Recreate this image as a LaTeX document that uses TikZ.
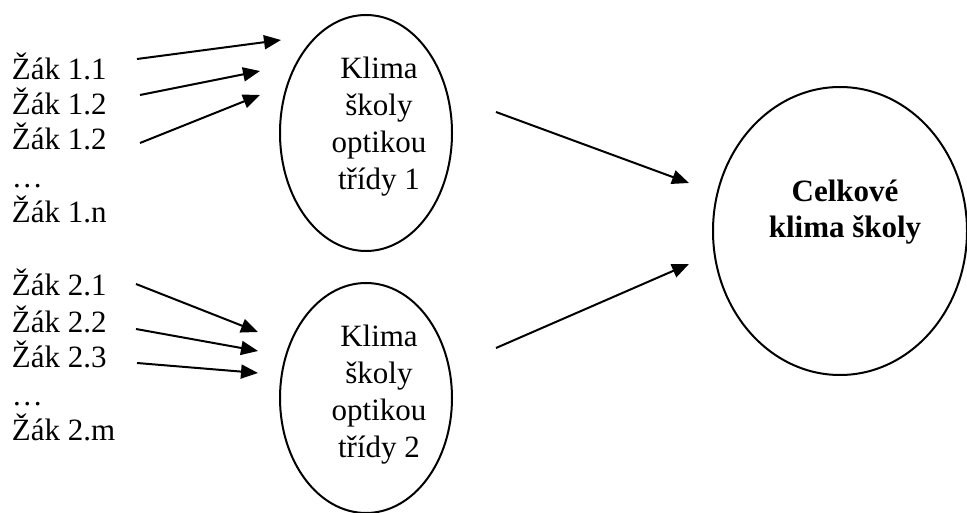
\documentclass[tikz,border=0pt]{standalone}
\usepackage{fontspec}
\setmainfont{Liberation Serif}
\usetikzlibrary{shapes.geometric,arrows.meta}
\begin{document}
\begin{tikzpicture}[x=1pt,y=-1pt,
  every node/.style={inner sep=0pt,outer sep=0pt},
  txt/.style={font=\fontsize{31}{36}\selectfont,anchor=base west},
  intxt/.style={font=\fontsize{31}{37}\selectfont,align=center},
  bigtxt/.style={font=\bfseries\fontsize{31}{36}\selectfont,align=center},
  oval/.style={draw,ellipse,line width=2pt},
  arr/.style={line width=2pt,-{Triangle[length=17pt,width=14pt]}}]
\useasboundingbox (0,0) rectangle (967,513);
% ovals
\node[oval,minimum width=172pt,minimum height=236pt] (e1) at (366,133) {};
\node[oval,minimum width=172pt,minimum height=230pt] (e2) at (366,398) {};
\node[oval,minimum width=254pt,minimum height=288pt] (big) at (840,231) {};
% oval texts
\node[intxt] (t1) at (379,127) {Klima\\školy\\optikou\\třídy 1};
\node[intxt] (t2) at (379,395) {Klima\\školy\\optikou\\třídy 2};
\node[bigtxt] (tb) at (845,212) {Celkové\\klima školy};
% students group 1
\node[txt] (s11) at (12,80) {Žák 1.1};
\node[txt] (s12) at (12,115) {Žák 1.2};
\node[txt] (s13) at (12,150) {Žák 1.2};
\node[txt] (s1d) at (12,188) {…};
\node[txt] (s1n) at (12,223) {Žák 1.n};
% students group 2
\node[txt] (s21) at (12,295) {Žák 2.1};
\node[txt] (s22) at (12,332) {Žák 2.2};
\node[txt] (s23) at (12,367) {Žák 2.3};
\node[txt] (s2d) at (12,405) {…};
\node[txt] (s2m) at (12,440) {Žák 2.m};
% arrow end points
\coordinate (a1s) at (137,59);  \coordinate (a1e) at (281,40);
\coordinate (a2s) at (140,95);  \coordinate (a2e) at (260,71);
\coordinate (a3s) at (140,143); \coordinate (a3e) at (260,95);
\coordinate (b1s) at (136,284); \coordinate (b1e) at (258,332);
\coordinate (b2s) at (136,329); \coordinate (b2e) at (258,351);
\coordinate (b3s) at (137,363); \coordinate (b3e) at (258,373);
\coordinate (c1s) at (496,112); \coordinate (c1e) at (689,183);
\coordinate (c2s) at (496,348); \coordinate (c2e) at (689,264);
\draw[arr] (a1s) -- (a1e);
\draw[arr] (a2s) -- (a2e);
\draw[arr] (a3s) -- (a3e);
\draw[arr] (b1s) -- (b1e);
\draw[arr] (b2s) -- (b2e);
\draw[arr] (b3s) -- (b3e);
\draw[arr] (c1s) -- (c1e);
\draw[arr] (c2s) -- (c2e);
\end{tikzpicture}
\end{document}
